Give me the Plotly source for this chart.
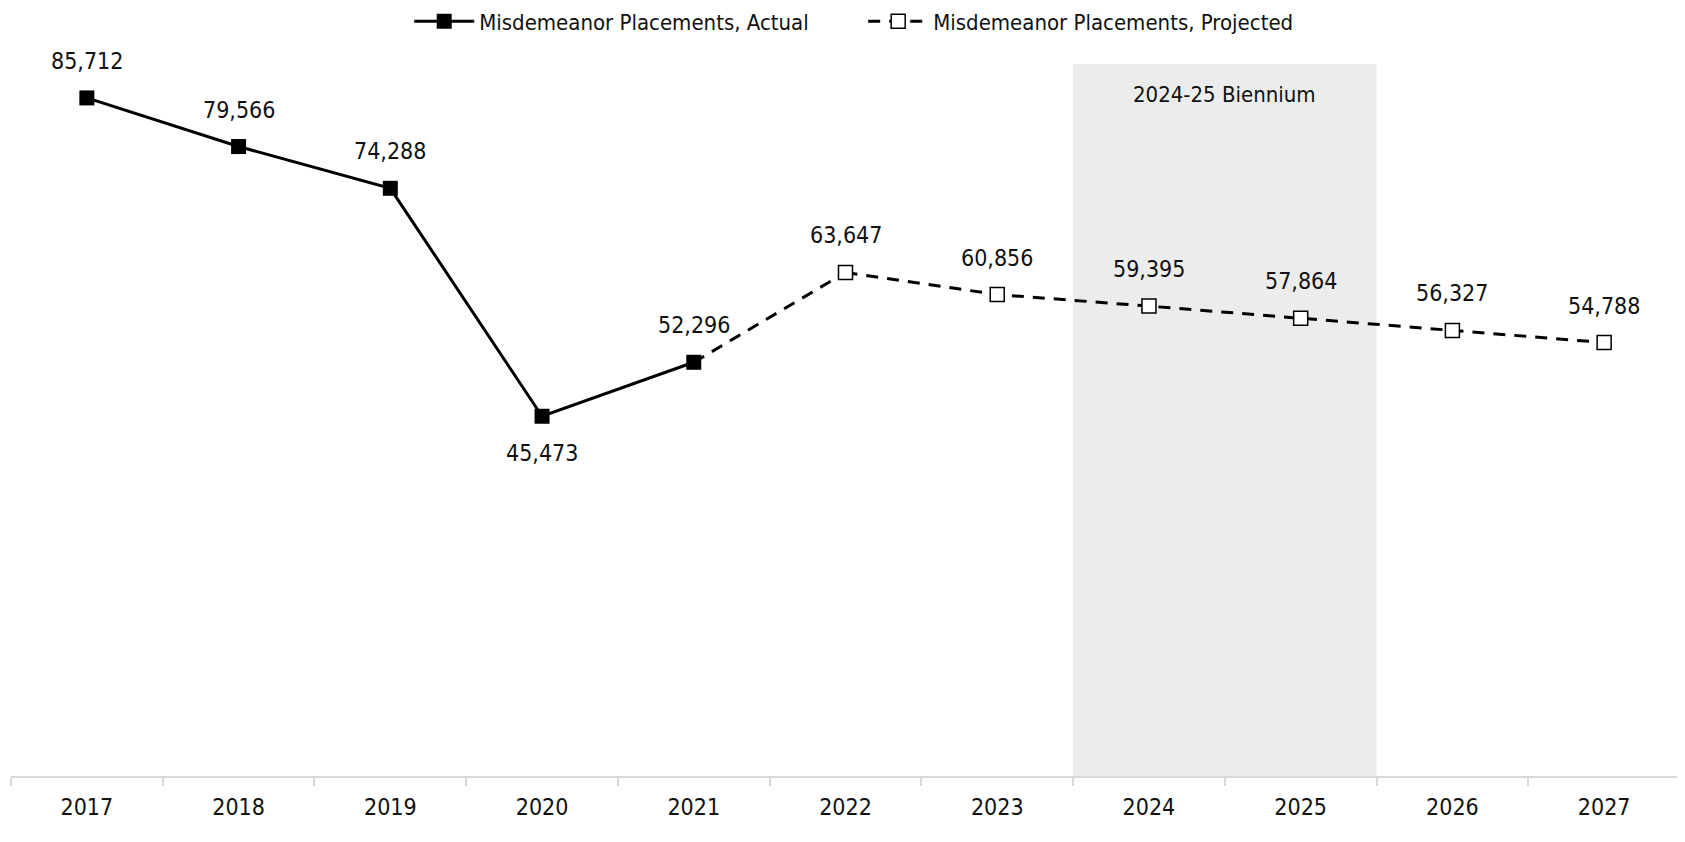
import plotly.graph_objects as go

# Data
years = ["2017", "2018", "2019", "2020", "2021", "2022", "2023", "2024", "2025", "2026", "2027"]
actual_years = ["2017", "2018", "2019", "2020", "2021"]
actual_values = [85712, 79566, 74288, 45473, 52296]
projected_years = ["2022", "2023", "2024", "2025", "2026", "2027"]
projected_values = [63647, 60856, 59395, 57864, 56327, 54788]
biennium_label = "2024-25 Biennium"

FONT = "DejaVu Sans Condensed, DejaVu Sans, sans-serif"
INK = "#111111"

fig = go.Figure()

# Biennium shading (2024 and 2025 bands)
fig.add_shape(
    type="rect", xref="x", yref="paper",
    x0=years.index("2024") - 0.5, x1=years.index("2025") + 0.5, y0=0, y1=1,
    fillcolor="#ececec", line=dict(width=0), layer="below",
)
fig.add_annotation(
    x=(years.index("2024") + years.index("2025")) / 2, y=1, xref="x", yref="paper",
    yanchor="middle", yshift=-30, text=biennium_label, showarrow=False,
    font=dict(family=FONT, size=22, color=INK),
)

# Dashed connector from last actual to first projected
fig.add_trace(go.Scatter(
    x=[actual_years[-1], projected_years[0]],
    y=[actual_values[-1], projected_values[0]],
    mode="lines", line=dict(color="black", width=3, dash="12px,9px"),
    showlegend=False, hoverinfo="skip",
))

fig.add_trace(go.Scatter(
    x=actual_years, y=actual_values, mode="lines+markers",
    name="Misdemeanor Placements, Actual",
    line=dict(color="black", width=3),
    marker=dict(symbol="square", size=15, color="black"),
))

fig.add_trace(go.Scatter(
    x=projected_years, y=projected_values, mode="lines+markers",
    name="Misdemeanor Placements, Projected",
    line=dict(color="black", width=3, dash="12px,9px"),
    marker=dict(symbol="square", size=14, color="white", line=dict(color="black", width=1.5)),
))

# Data labels
for yr, val in zip(actual_years + projected_years, actual_values + projected_values):
    shift = -37 if yr == "2020" else 37
    fig.add_annotation(
        x=years.index(yr), y=val, text=f"{val:,}", showarrow=False, yshift=shift,
        font=dict(family=FONT, size=23, color=INK),
    )

# page body has an 8px margin, so the figure is sized/offset to compensate
fig.update_layout(
    width=1677, height=834,
    paper_bgcolor="white", plot_bgcolor="white",
    margin=dict(l=3, r=5, t=56, b=66),
    font=dict(family=FONT, size=22, color=INK),
    legend=dict(
        orientation="h", x=0.5106, xanchor="center", y=1 - 13.5 / 834, yanchor="middle",
        yref="container", font=dict(family=FONT, size=22, color=INK),
        itemwidth=60, entrywidth=379, entrywidthmode="pixels",
    ),
    xaxis=dict(
        type="category", categoryorder="array", categoryarray=years,
        range=[-0.5, len(years) - 0.5],
        showline=True, linecolor="#d9d9d9", linewidth=2,
        ticks="outside", tickson="boundaries", tickcolor="#d9d9d9", ticklen=8, tickwidth=2,
        ticklabelstandoff=9,
        showgrid=False, tickfont=dict(family=FONT, size=23, color=INK),
    ),
    yaxis=dict(range=[0, 90000], visible=False, showgrid=False, zeroline=False),
)

fig.write_html("out.html")
